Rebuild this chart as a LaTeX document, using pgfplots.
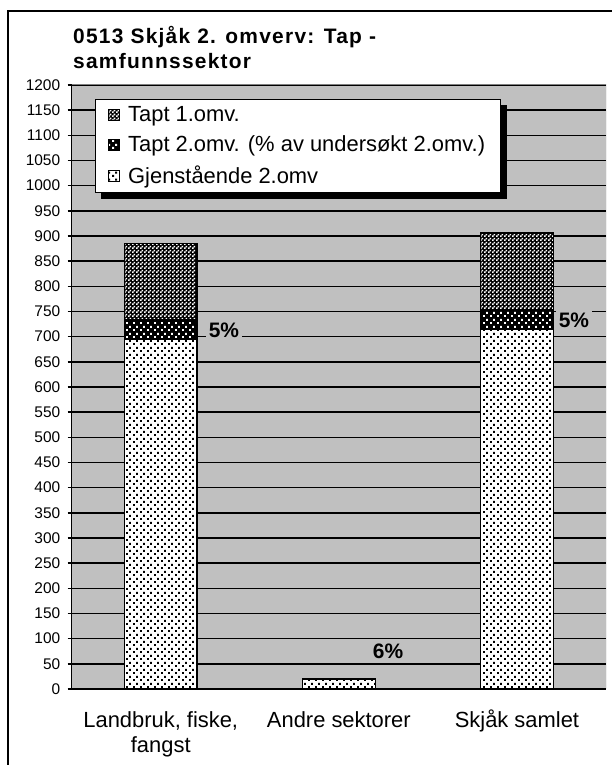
\documentclass[border=0pt]{standalone}
\usepackage{fontspec}
\setmainfont{Liberation Sans}
\newfontfamily\titlefont[LetterSpace=6]{Liberation Sans}
\usepackage{pgfplots}
\pgfplotsset{compat=1.18}
\usetikzlibrary{patterns}

\definecolor{bggray}{RGB}{192,192,192}

% sparse square dots (Excel style)
\pgfdeclarepatternformonly{sparsedots}{\pgfpoint{0bp}{0bp}}{\pgfpoint{7bp}{7bp}}{\pgfpoint{7bp}{7bp}}{
  \pgfpathrectangle{\pgfpoint{0bp}{0bp}}{\pgfpoint{2.2bp}{2.2bp}}
  \pgfpathrectangle{\pgfpoint{3.5bp}{3.5bp}}{\pgfpoint{2.2bp}{2.2bp}}
  \pgfusepath{fill}
}
% fine checker (white holes on black)
\pgfdeclarepatternformonly{checker}{\pgfpoint{0bp}{0bp}}{\pgfpoint{4bp}{4bp}}{\pgfpoint{4bp}{4bp}}{
  \pgfpathrectangle{\pgfpoint{0bp}{0bp}}{\pgfpoint{1.9bp}{1.9bp}}
  \pgfpathrectangle{\pgfpoint{2bp}{2bp}}{\pgfpoint{1.9bp}{1.9bp}}
  \pgfusepath{fill}
}

\begin{document}
\begin{tikzpicture}
\path[use as bounding box] (0,0) rectangle (612bp,765bp);

% outer chart frame
\draw[line width=2bp] (8.3bp,-10bp) -- (8.3bp,754bp) -- (630bp,754bp);

% title
\node[anchor=north west, align=left, inner sep=0pt,
      font=\titlefont\bfseries\fontsize{21}{25.5}\selectfont]
  at (73bp,739bp) {0513 Skjåk 2. omverv: Tap -\\samfunnssektor};

% plot area background
\fill[bggray] (71.7bp,76bp) rectangle (606bp,680bp);

\begin{axis}[
    at={(71.7bp,76bp)}, anchor=south west,
    width=534.3bp, height=604bp, scale only axis,
    axis x line*=bottom, axis y line*=left,
    axis line style={-, black, line width=1.5bp},
    xmin=-0.5, xmax=2.5,
    ymin=0, ymax=1200,
    ytick distance=50,
    ymajorgrids,
    grid style={black, line width=1.5bp},
    tick align=outside,
    major tick length=4bp,
    tick style={black, line width=1.5bp},
    xtick={0,1,2},
    xticklabels={{\vphantom{å}Landbruk, fiske,\\fangst},{\vphantom{å}Andre sektorer},{Skjåk samlet}},
    major x tick style={draw=none},
    extra x ticks={-0.5,0.5,1.5,2.5},
    extra x tick labels={},
    extra x tick style={major tick length=6bp, tick style={draw=black, line width=1.5bp}},
    x tick label style={align=center, anchor=north, font=\fontsize{22}{25}\selectfont, yshift=-13bp},
    y tick label style={font=\fontsize{15.5}{15.5}\selectfont, xshift=-4bp},
    /pgf/number format/assume math mode=true,
    /pgf/number format/1000 sep={},
    ybar stacked,
    bar width=0.408,
    reverse legend,
    legend cell align=left,
    legend image code/.code={\draw[#1, line width=1bp] (0bp,-5.5bp) rectangle (11bp,5.5bp);},
    legend style={name=leg, at={(0.043,0.977)}, anchor=north west,
        draw=black, line width=1bp, fill=white,
        font=\fontsize{22}{22}\selectfont,
        row sep=9bp, inner xsep=13bp, inner ysep=5bp},
]

\addplot[draw=black, line width=1.2bp, fill=white,
         postaction={pattern=sparsedots, pattern color=black}]
  coordinates {(0,695) (1,19) (2,714)};
\addlegendentry{\hspace*{6bp}Gjenstående 2.omv}

\addplot[draw=black, line width=1.2bp, fill=black,
         postaction={pattern=sparsedots, pattern color=white}]
  coordinates {(0,38) (1,1.2) (2,39.2)};
\addlegendentry{\hspace*{6bp}Tapt 2.omv. (\% av undersøkt 2.omv.)\hspace{10bp}}

\addplot[draw=black, line width=1.2bp, fill=black,
         postaction={pattern=checker, pattern color=white}]
  coordinates {(0,152) (1,0.8) (2,152.8)};
\addlegendentry{\hspace*{6bp}Tapt 1.omv.}

% plot area border (top and right)
\draw[gray, line width=1bp] (rel axis cs:0,1) -- (rel axis cs:1,1) -- (rel axis cs:1,0);

% percentage labels
\node[fill=bggray, inner sep=3bp, font=\bfseries\fontsize{21}{21}\selectfont] at (axis cs:0.355,713) {5\%};
\node[fill=bggray, inner sep=3bp, font=\bfseries\fontsize{21}{21}\selectfont] at (axis cs:1.276,74) {6\%};
\node[fill=bggray, inner sep=3bp, font=\bfseries\fontsize{21}{21}\selectfont] at (axis cs:2.32,733) {5\%};
\end{axis}

% legend shadow
\fill[black] ([xshift=0.5bp,yshift=-6bp]leg.north east) rectangle ([xshift=6.5bp,yshift=-6.5bp]leg.south east);
\fill[black] ([xshift=6bp,yshift=-0.5bp]leg.south west) rectangle ([xshift=6.5bp,yshift=-6.5bp]leg.south east);
\end{tikzpicture}
\end{document}
